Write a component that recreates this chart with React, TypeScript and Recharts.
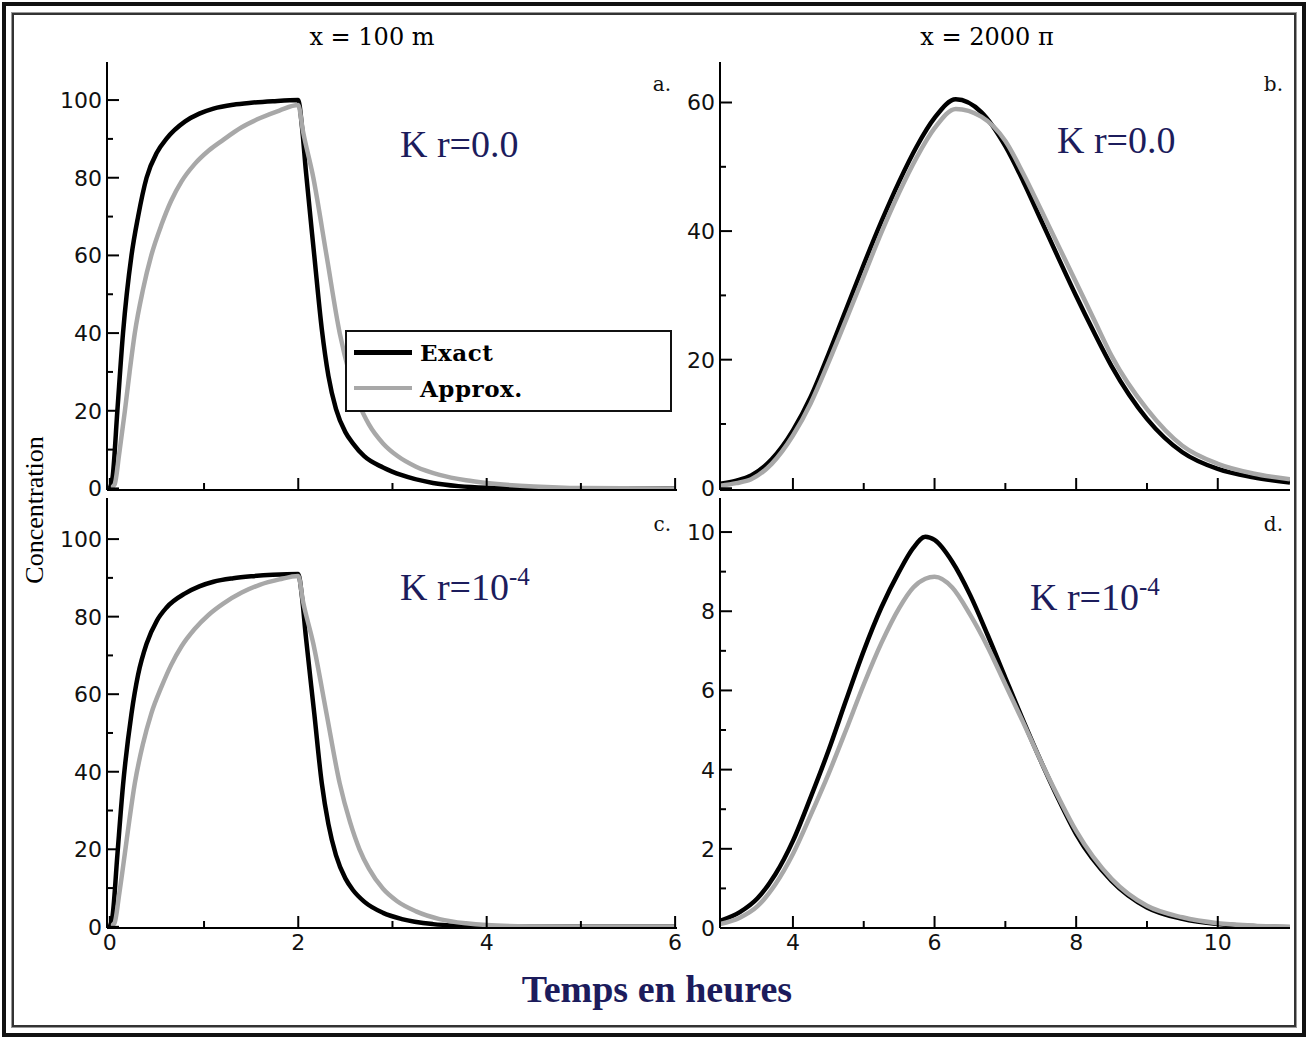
import React from 'react';
import { LineChart, Line, XAxis, YAxis } from 'recharts';

// ---- panel a : x = 100 m, Kr = 0.0
const aExactT = [0, 0.03, 0.08, 0.14, 0.23, 0.3, 0.39, 0.5, 0.6, 0.8, 0.95, 1.1, 1.31, 1.5, 1.73, 2.0, 2.04, 2.08, 2.17, 2.25, 2.32, 2.4, 2.5, 2.58, 2.7, 2.9, 3.1, 3.43, 3.7, 4.0, 4.5, 6.0];
const aExactC = [0, 3, 20, 40, 60, 70, 80, 86.5, 90, 94.5, 96.5, 97.8, 98.8, 99.3, 99.7, 100, 93, 82, 60, 41, 29, 20.5, 14.5, 11.6, 8.3, 5.4, 3.4, 1.4, 0.6, 0.2, 0, 0];
const aApproxT = [0, 0.05, 0.1, 0.16, 0.21, 0.265, 0.35, 0.44, 0.55, 0.65, 0.76, 0.9, 1.05, 1.2, 1.4, 1.59, 1.8, 2.0, 2.05, 2.16, 2.3, 2.44, 2.55, 2.65, 2.75, 2.9, 3.05, 3.25, 3.5, 3.78, 4.0, 4.5, 5.0, 6.0];
const aApproxC = [0, 1, 9, 20, 30, 40, 51, 60, 68, 74, 79, 83.5, 87, 89.7, 93, 95.3, 97.3, 98.7, 92, 80, 60, 40, 29, 21.5, 16.5, 11.6, 8.4, 5.6, 3.5, 2.1, 1.4, 0.5, 0.1, 0];

// ---- panel b : x = 2000 m, Kr = 0.0
const bT = [2.97, 3.2, 3.41, 3.7, 4, 4.25, 4.5, 4.75, 5, 5.25, 5.5, 5.75, 6, 6.3, 6.66, 7, 7.25, 7.5, 7.75, 8, 8.25, 8.5, 9, 9.5, 10, 10.5, 11.02];
const bExactC = [0.7, 1.2, 2.0, 4.5, 9, 14.2, 20.8, 27.8, 34.8, 41.5, 47.7, 53.2, 57.6, 60.5, 58.5, 53.2, 47.8, 41.8, 35.8, 29.9, 24.3, 19.0, 10.8, 5.6, 3.0, 1.7, 0.9];
const bApproxC = [0.4, 0.8, 1.4, 3.8, 8.2, 13.2, 19.5, 26.2, 33, 39.8, 46, 51.5, 56, 59, 57.8, 54, 49, 43.4, 37.7, 32, 26.3, 20.6, 12.3, 6.6, 3.8, 2.3, 1.4];

// ---- panel c : x = 100 m, Kr = 1e-4
const cExactT = [0, 0.03, 0.08, 0.14, 0.23, 0.3, 0.39, 0.5, 0.6, 0.8, 0.95, 1.1, 1.31, 1.5, 1.73, 2.0, 2.04, 2.08, 2.17, 2.25, 2.32, 2.4, 2.5, 2.58, 2.7, 2.9, 3.1, 3.43, 3.7, 4.0, 6.0];
const cExactC = [0, 3, 18.5, 36.5, 55, 65, 73, 79, 82.3, 86, 87.8, 89.0, 89.9, 90.4, 90.8, 91, 85, 75, 55, 37, 26.5, 18.5, 12.5, 9.5, 6.5, 3.6, 2.0, 0.7, 0.25, 0.05, 0];
const cApproxT = [0, 0.05, 0.1, 0.16, 0.21, 0.265, 0.35, 0.44, 0.55, 0.65, 0.76, 0.9, 1.05, 1.2, 1.4, 1.59, 1.8, 2.0, 2.05, 2.16, 2.3, 2.44, 2.55, 2.65, 2.75, 2.9, 3.05, 3.25, 3.5, 3.78, 4.0, 4.5, 5.0, 6.0];
const cApproxC = [0, 1, 8.5, 19, 28, 37, 47, 55, 62, 67.5, 72.3, 76.8, 80.5, 83.3, 86.2, 88.2, 89.6, 90.5, 84, 73, 55, 37, 27, 20, 15, 9.8, 6.6, 4.0, 2.0, 0.9, 0.45, 0.1, 0, 0];

// ---- panel d : x = 2000 m, Kr = 1e-4
const dT = [2.97, 3.25, 3.5, 3.75, 4, 4.25, 4.5, 4.75, 5, 5.25, 5.5, 5.7, 5.87, 6, 6.25, 6.5, 6.75, 7, 7.25, 7.5, 7.75, 8, 8.5, 9, 9.5, 10, 10.5, 11.02];
const dExactC = [0.18, 0.4, 0.75, 1.35, 2.2, 3.3, 4.47, 5.75, 7.0, 8.1, 9.0, 9.6, 9.88, 9.8, 9.25, 8.42, 7.4, 6.32, 5.25, 4.22, 3.25, 2.37, 1.19, 0.52, 0.23, 0.1, 0.05, 0.02];
const dApproxC = [0.1, 0.26, 0.55, 1.1, 1.87, 2.85, 3.88, 5.0, 6.15, 7.2, 8.08, 8.6, 8.82, 8.87, 8.6, 7.92, 7.1, 6.15, 5.2, 4.22, 3.3, 2.45, 1.24, 0.56, 0.27, 0.12, 0.06, 0.03];

const nearTicks = [0, 1, 2, 3, 4, 5, 6];
const farTicks = [4, 5, 6, 7, 8, 9, 10];
const bigYTicks = [0, 10, 20, 30, 40, 50, 60, 70, 80, 90, 100];
const bYTicks = [0, 10, 20, 30, 40, 50, 60];
const dYTicks = [0, 1, 2, 3, 4, 5, 6, 7, 8, 9, 10];

const EXACT = '#000000';
const APPROX = '#a8a8a8';
const NAVY = '#1c1c5c';
const TM = 5;
const TICK_FONT = 22;

const zip = (ts: number[], cs: number[]) => ts.map((t, i) => ({ t, c: cs[i] }));

const xTick = (showLabels: boolean) => (p: any) => {
  const v = p.payload.value;
  const axisY = p.y - TM;
  const major = v % 2 === 0;
  return (
    <g key={'x' + v}>
      <line x1={p.x} x2={p.x} y1={axisY} y2={axisY - (major ? 12 : 7)} stroke="#000" strokeWidth={2} />
      {showLabels && major && (
        <text x={p.x} y={p.y} dy="0.78em" textAnchor="middle" fontFamily="DejaVu Sans" fontSize={TICK_FONT} fill="#111">
          {v}
        </text>
      )}
    </g>
  );
};

const yTick = (step: number) => (p: any) => {
  const v = p.payload.value;
  const axisX = p.x + TM;
  const major = Math.round(v / step) % 2 === 0;
  return (
    <g key={'y' + v}>
      <line x1={axisX} x2={axisX + (major ? 12 : 6)} y1={p.y} y2={p.y} stroke="#000" strokeWidth={2} />
      {major && (
        <text x={p.x} y={p.y} dy="0.36em" textAnchor="end" fontFamily="DejaVu Sans" fontSize={TICK_FONT} fill="#111">
          {v}
        </text>
      )}
    </g>
  );
};

interface PanelProps {
  left: number;
  top: number;
  height: number;
  xDomain: [number, number];
  yDomain: [number, number];
  xTicks: number[];
  yTicks: number[];
  yStep: number;
  xLabels: boolean;
  exact: { t: number; c: number }[];
  approx: { t: number; c: number }[];
}

function Panel(props: PanelProps) {
  const axisStyle = { stroke: '#000', strokeWidth: 2 };
  return (
    <div style={{ position: 'absolute', left: props.left, top: props.top }}>
      <LineChart width={635} height={props.height} margin={{ top: 5, right: 5, bottom: 0, left: 0 }}>
        <XAxis
          dataKey="t"
          type="number"
          domain={props.xDomain}
          allowDataOverflow
          ticks={props.xTicks}
          interval={0}
          height={40}
          tickSize={0}
          tickMargin={TM}
          axisLine={axisStyle}
          tick={xTick(props.xLabels)}
        />
        <XAxis xAxisId="top" orientation="top" type="number" domain={props.xDomain} height={0} tick={false} tickLine={false} axisLine={axisStyle} />
        <YAxis
          dataKey="c"
          type="number"
          domain={props.yDomain}
          allowDataOverflow
          ticks={props.yTicks}
          interval={0}
          width={60}
          tickSize={0}
          tickMargin={TM}
          axisLine={axisStyle}
          tick={yTick(props.yStep)}
        />
        <YAxis yAxisId="right" orientation="right" type="number" domain={props.yDomain} width={0} tick={false} tickLine={false} axisLine={axisStyle} />
        <Line data={props.exact} dataKey="c" name="Exact" type="monotone" stroke={EXACT} strokeWidth={4.5} dot={false} isAnimationActive={false} />
        <Line data={props.approx} dataKey="c" name="Approx." type="monotone" stroke={APPROX} strokeWidth={4.5} dot={false} isAnimationActive={false} />
      </LineChart>
    </div>
  );
}

const abs = (s: React.CSSProperties): React.CSSProperties => ({ position: 'absolute', whiteSpace: 'nowrap', ...s });

function Kr({ left, top, exp }: { left: number; top: number; exp: boolean }) {
  return (
    <div style={abs({ left, top, fontFamily: 'Liberation Serif', fontSize: 38, lineHeight: 1, color: NAVY })}>
      K r={exp ? (
        <>
          10<span style={{ position: 'relative', top: -15, fontSize: 25 }}>-4</span>
        </>
      ) : '0.0'}
    </div>
  );
}

export default function App() {
  const lbl: React.CSSProperties = { fontFamily: 'DejaVu Serif', fontSize: 20, color: '#111', lineHeight: 1 };
  const legendText: React.CSSProperties = { fontFamily: 'DejaVu Serif', fontWeight: 'bold', fontSize: 23, lineHeight: 1, letterSpacing: 0.5 };
  return (
    <div style={{ position: 'absolute', left: 0, top: 0, width: 1308, height: 1039, background: '#fff', overflow: 'hidden' }}>
      <div style={abs({ left: 2, top: 2, width: 1296, height: 1027, border: '4px solid #111' })} />
      <div style={abs({ left: 12, top: 13, width: 1280, height: 1010, border: '2px solid #333', outline: '1px solid #999' })} />

      <div style={abs({ left: 272, top: 25, width: 200, textAlign: 'center', fontFamily: 'DejaVu Serif', fontSize: 24, lineHeight: 1 })}>x = 100 m</div>
      <div style={abs({ left: 887, top: 25, width: 200, textAlign: 'center', fontFamily: 'DejaVu Serif', fontSize: 24, lineHeight: 1 })}>x = 2000 π</div>

      <Panel left={47} top={57} height={473} xDomain={[-0.03, 6.02]} yDomain={[-0.4, 109.8]} xTicks={nearTicks} yTicks={bigYTicks} yStep={10} xLabels={false}
        exact={zip(aExactT, aExactC)} approx={zip(aApproxT, aApproxC)} />
      <Panel left={660} top={57} height={473} xDomain={[2.97, 11.02]} yDomain={[-0.27, 66.3]} xTicks={farTicks} yTicks={bYTicks} yStep={10} xLabels={false}
        exact={zip(bT, bExactC)} approx={zip(bT, bApproxC)} />
      <Panel left={47} top={493} height={475} xDomain={[-0.03, 6.02]} yDomain={[-0.3, 110.6]} xTicks={nearTicks} yTicks={bigYTicks} yStep={10} xLabels={true}
        exact={zip(cExactT, cExactC)} approx={zip(cApproxT, cApproxC)} />
      <Panel left={660} top={493} height={475} xDomain={[2.97, 11.02]} yDomain={[0, 10.86]} xTicks={farTicks} yTicks={dYTicks} yStep={1} xLabels={true}
        exact={zip(dT, dExactC)} approx={zip(dT, dApproxC)} />

      <div style={abs({ ...lbl, right: 1308 - 671, top: 74 })}>a.</div>
      <div style={abs({ ...lbl, right: 1308 - 1283, top: 74 })}>b.</div>
      <div style={abs({ ...lbl, right: 1308 - 671, top: 514 })}>c.</div>
      <div style={abs({ ...lbl, right: 1308 - 1283, top: 514 })}>d.</div>

      <Kr left={400} top={125} exp={false} />
      <Kr left={1057} top={121} exp={false} />
      <Kr left={400} top={568} exp={true} />
      <Kr left={1030} top={578} exp={true} />

      <div style={abs({ left: 345, top: 330, width: 323, height: 78, border: '2px solid #111', background: '#fff' })}>
        <div style={abs({ left: 7, top: 18, width: 58, height: 5, background: EXACT })} />
        <div style={abs({ left: 7, top: 54, width: 58, height: 4, background: APPROX })} />
        <div style={abs({ ...legendText, left: 73, top: 9 })}>Exact</div>
        <div style={abs({ ...legendText, left: 73, top: 45 })}>Approx.</div>
      </div>

      <div style={abs({ left: -65, top: 497, width: 200, textAlign: 'center', fontFamily: 'Liberation Serif', fontSize: 26, lineHeight: 1, transform: 'rotate(-90deg)' })}>
        Concentration
      </div>

      <div style={abs({ left: 457, top: 970, width: 400, textAlign: 'center', fontFamily: 'Liberation Serif', fontWeight: 'bold', fontSize: 38, lineHeight: 1, color: NAVY })}>
        Temps en heures
      </div>
    </div>
  );
}
